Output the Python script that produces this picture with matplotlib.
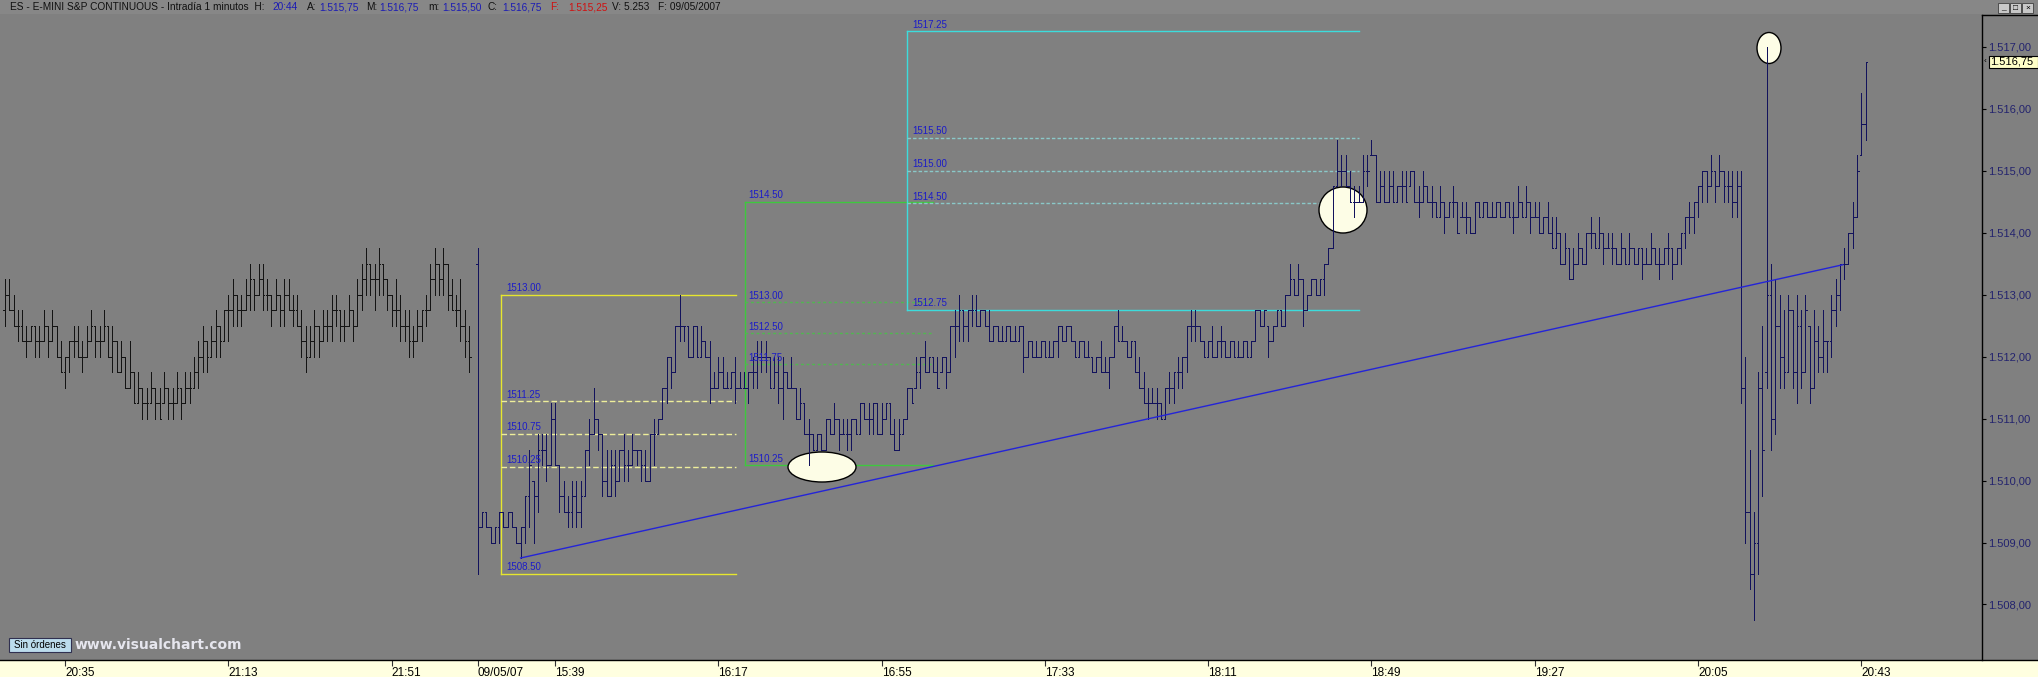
import matplotlib
matplotlib.use('Agg')
import matplotlib.pyplot as plt
from matplotlib.patches import Ellipse, Rectangle
from matplotlib.lines import Line2D
from matplotlib.collections import LineCollection

# ---------------- data ----------------
price_ticks = [1508, 1509, 1510, 1511, 1512, 1513, 1514, 1515, 1516, 1517]
time_tick_pos = [-114, -76, -38, -18, 0, 38, 76, 114, 152, 190, 228, 266, 304]
time_tick_labels = ['20:35', '21:13', '21:51', '09/05/07', '15:39', '16:17', '16:55',
                    '17:33', '18:11', '18:49', '19:27', '20:05', '20:43']

# previous session, 1-minute bars (first bar index -128)
prev_start = -128
prev_high = [
    1513.25, 1513.25, 1513.00, 1512.75, 1512.75, 1512.50, 1512.50, 1512.50, 1512.50, 1512.75,
    1512.50, 1512.75, 1512.50, 1512.25, 1512.00, 1512.25, 1512.50, 1512.50, 1512.25, 1512.50,
    1512.75, 1512.50, 1512.50, 1512.75, 1512.50, 1512.50, 1512.25, 1512.25, 1512.00, 1512.25,
    1511.75, 1511.75, 1511.50, 1511.50, 1511.75, 1511.50, 1511.50, 1511.75, 1511.50, 1511.50,
    1511.75, 1511.50, 1511.75, 1511.75, 1512.00, 1512.25, 1512.50, 1512.25, 1512.50, 1512.75,
    1512.50, 1512.75, 1513.00, 1513.25, 1513.00, 1513.00, 1513.25, 1513.50, 1513.25, 1513.50,
    1513.50, 1513.25, 1513.00, 1513.25, 1513.00, 1513.25, 1513.25, 1513.00, 1513.00, 1512.75,
    1512.50, 1512.50, 1512.75, 1512.50, 1512.75, 1512.75, 1513.00, 1513.00, 1512.75, 1512.75,
    1513.00, 1512.75, 1513.25, 1513.50, 1513.75, 1513.50, 1513.50, 1513.75, 1513.50, 1513.25,
    1513.00, 1513.25, 1513.00, 1512.75, 1512.75, 1512.50, 1512.75, 1512.75, 1513.00, 1513.50,
    1513.75, 1513.50, 1513.75, 1513.50, 1513.25, 1513.00, 1513.25, 1512.75, 1512.50]
prev_low = [
    1512.50, 1512.75, 1512.50, 1512.25, 1512.25, 1512.00, 1512.25, 1512.00, 1512.00, 1512.25,
    1512.00, 1512.25, 1512.00, 1511.75, 1511.50, 1511.75, 1512.00, 1512.00, 1511.75, 1512.00,
    1512.25, 1512.00, 1512.00, 1512.25, 1512.00, 1511.75, 1511.75, 1511.75, 1511.50, 1511.50,
    1511.25, 1511.25, 1511.00, 1511.00, 1511.25, 1511.00, 1511.00, 1511.25, 1511.00, 1511.00,
    1511.25, 1511.00, 1511.25, 1511.25, 1511.50, 1511.50, 1511.75, 1511.75, 1512.00, 1512.00,
    1512.00, 1512.25, 1512.25, 1512.50, 1512.50, 1512.50, 1512.75, 1512.75, 1512.75, 1513.00,
    1512.75, 1512.75, 1512.50, 1512.75, 1512.50, 1512.50, 1512.75, 1512.50, 1512.50, 1512.00,
    1511.75, 1512.00, 1512.00, 1512.00, 1512.25, 1512.25, 1512.25, 1512.50, 1512.25, 1512.25,
    1512.50, 1512.25, 1512.50, 1512.75, 1513.00, 1513.00, 1512.75, 1513.00, 1513.00, 1512.75,
    1512.50, 1512.50, 1512.25, 1512.25, 1512.00, 1512.00, 1512.25, 1512.25, 1512.50, 1512.75,
    1513.00, 1513.00, 1513.00, 1512.75, 1512.75, 1512.50, 1512.25, 1512.00, 1511.75]
prev_open = [
    1512.75, 1513.00, 1512.75, 1512.50, 1512.50, 1512.25, 1512.25, 1512.50, 1512.25, 1512.25,
    1512.50, 1512.25, 1512.50, 1512.00, 1511.75, 1512.00, 1512.25, 1512.25, 1512.00, 1512.00,
    1512.25, 1512.50, 1512.25, 1512.25, 1512.50, 1512.00, 1512.25, 1511.75, 1512.00, 1511.50,
    1511.75, 1511.25, 1511.50, 1511.25, 1511.25, 1511.50, 1511.25, 1511.25, 1511.50, 1511.25,
    1511.25, 1511.50, 1511.25, 1511.50, 1511.50, 1511.75, 1512.00, 1512.25, 1512.00, 1512.25,
    1512.50, 1512.25, 1512.75, 1512.75, 1513.00, 1512.75, 1512.75, 1513.00, 1513.25, 1513.00,
    1513.25, 1513.00, 1513.00, 1512.75, 1513.00, 1512.75, 1513.00, 1512.75, 1512.75, 1512.50,
    1512.25, 1512.00, 1512.25, 1512.50, 1512.25, 1512.50, 1512.50, 1512.75, 1512.75, 1512.50,
    1512.50, 1512.75, 1512.50, 1513.00, 1513.25, 1513.50, 1513.25, 1513.25, 1513.50, 1513.25,
    1513.00, 1512.75, 1512.75, 1512.50, 1512.50, 1512.25, 1512.25, 1512.50, 1512.75, 1512.75,
    1513.25, 1513.50, 1513.25, 1513.50, 1513.00, 1512.75, 1512.75, 1512.50, 1512.25]
prev_close = [
    1513.00, 1512.75, 1512.50, 1512.50, 1512.25, 1512.25, 1512.50, 1512.25, 1512.25, 1512.50,
    1512.25, 1512.50, 1512.00, 1511.75, 1512.00, 1512.25, 1512.25, 1512.00, 1512.00, 1512.25,
    1512.50, 1512.25, 1512.25, 1512.50, 1512.00, 1512.25, 1511.75, 1512.00, 1511.50, 1511.75,
    1511.25, 1511.50, 1511.25, 1511.25, 1511.50, 1511.25, 1511.00, 1511.50, 1511.25, 1511.25,
    1511.50, 1511.25, 1511.50, 1511.50, 1511.75, 1512.00, 1512.25, 1512.00, 1512.25, 1512.50,
    1512.25, 1512.75, 1512.75, 1513.00, 1512.75, 1512.75, 1513.00, 1513.25, 1513.00, 1513.25,
    1513.00, 1513.00, 1512.75, 1513.00, 1512.75, 1513.00, 1512.75, 1512.75, 1512.50, 1512.25,
    1512.00, 1512.25, 1512.50, 1512.25, 1512.50, 1512.50, 1512.75, 1512.75, 1512.50, 1512.50,
    1512.75, 1512.50, 1513.00, 1513.25, 1513.50, 1513.25, 1513.25, 1513.50, 1513.25, 1513.00,
    1512.75, 1512.75, 1512.50, 1512.50, 1512.25, 1512.25, 1512.50, 1512.75, 1512.75, 1513.25,
    1513.50, 1513.25, 1513.50, 1513.00, 1512.75, 1512.75, 1512.50, 1512.25, 1512.00]

# current session, 1-minute bars (first bar index -18, bar 0 = 15:39)
day_start = -18
day_high = [
    1513.75, 1509.50, 1509.50, 1509.25, 1509.25, 1509.50, 1509.50, 1509.50, 1509.50, 1509.25,
    1509.25, 1509.75, 1510.50, 1510.00, 1510.75, 1510.75, 1510.75, 1511.25, 1511.25, 1510.25,
    1510.00, 1509.75, 1510.00, 1510.00, 1510.00, 1510.50, 1511.00, 1511.50, 1511.00, 1510.75,
    1510.50, 1510.50, 1510.50, 1510.50, 1510.75, 1510.50, 1510.75, 1510.50, 1510.50, 1510.50,
    1510.75, 1511.00, 1511.00, 1511.50, 1512.00, 1512.00, 1512.50, 1513.00, 1512.50, 1512.50,
    1512.50, 1512.50, 1512.50, 1512.25, 1512.25, 1511.75, 1512.00, 1512.00, 1511.75, 1511.75,
    1512.00, 1511.75, 1511.75, 1511.75, 1512.00, 1512.25, 1512.25, 1512.25, 1512.00, 1512.00,
    1512.00, 1512.00, 1511.75, 1512.00, 1511.50, 1511.50, 1511.25, 1511.00, 1510.75, 1510.75,
    1510.75, 1511.00, 1511.00, 1511.25, 1511.00, 1511.00, 1511.00, 1511.00, 1511.00, 1511.25,
    1511.25, 1511.25, 1511.25, 1511.25, 1511.25, 1511.25, 1511.25, 1511.00, 1511.00, 1511.00,
    1511.50, 1511.50, 1512.00, 1512.00, 1512.25, 1512.00, 1512.00, 1512.00, 1512.00, 1512.00,
    1512.50, 1512.75, 1513.00, 1512.75, 1512.75, 1513.00, 1513.00, 1512.75, 1512.75, 1512.75,
    1512.50, 1512.50, 1512.50, 1512.50, 1512.50, 1512.50, 1512.50, 1512.50, 1512.25, 1512.25,
    1512.25, 1512.25, 1512.25, 1512.25, 1512.25, 1512.50, 1512.50, 1512.50, 1512.50, 1512.25,
    1512.25, 1512.25, 1512.25, 1512.00, 1512.00, 1512.25, 1512.00, 1512.00, 1512.50, 1512.75,
    1512.50, 1512.25, 1512.25, 1512.25, 1512.00, 1511.75, 1511.50, 1511.50, 1511.50, 1511.25,
    1511.50, 1511.75, 1511.75, 1512.00, 1512.00, 1512.50, 1512.75, 1512.75, 1512.50, 1512.25,
    1512.25, 1512.50, 1512.25, 1512.50, 1512.25, 1512.25, 1512.25, 1512.25, 1512.25, 1512.25,
    1512.25, 1512.75, 1512.75, 1512.75, 1512.50, 1512.50, 1512.75, 1512.75, 1513.00, 1513.50,
    1513.25, 1513.50, 1513.25, 1513.00, 1513.25, 1513.25, 1513.25, 1513.50, 1513.75, 1514.75,
    1515.50, 1515.25, 1515.25, 1515.00, 1514.75, 1514.75, 1515.25, 1515.25, 1515.50, 1515.25,
    1515.00, 1515.00, 1515.00, 1515.00, 1514.75, 1515.00, 1515.00, 1515.00, 1515.00, 1514.75,
    1515.00, 1514.75, 1514.75, 1514.50, 1514.75, 1514.50, 1514.50, 1514.75, 1514.50, 1514.50,
    1514.50, 1514.25, 1514.50, 1514.50, 1514.50, 1514.50, 1514.50, 1514.50, 1514.50, 1514.50,
    1514.50, 1514.50, 1514.75, 1514.50, 1514.75, 1514.50, 1514.50, 1514.50, 1514.25, 1514.50,
    1514.25, 1514.25, 1514.00, 1514.00, 1513.75, 1513.75, 1514.00, 1513.75, 1514.00, 1514.25,
    1514.00, 1514.25, 1514.00, 1514.00, 1514.00, 1513.75, 1514.00, 1513.75, 1514.00, 1513.75,
    1513.75, 1513.75, 1513.75, 1514.00, 1513.75, 1513.75, 1513.75, 1514.00, 1513.75, 1513.75,
    1514.00, 1514.25, 1514.50, 1514.50, 1514.75, 1515.00, 1515.00, 1515.25, 1515.00, 1515.25,
    1515.00, 1515.00, 1515.00, 1515.00, 1515.00, 1512.00, 1510.50, 1509.50, 1511.75, 1512.50,
    1517.00, 1513.50, 1513.25, 1513.00, 1512.75, 1513.00, 1512.75, 1513.00, 1512.75, 1513.00,
    1512.50, 1512.75, 1512.50, 1512.75, 1512.25, 1513.00, 1513.25, 1513.50, 1513.75, 1514.00,
    1514.50, 1515.25, 1516.25, 1516.75]
day_low = [
    1508.50, 1509.25, 1509.25, 1509.00, 1509.00, 1509.00, 1509.25, 1509.25, 1509.25, 1509.00,
    1508.75, 1509.00, 1509.25, 1509.00, 1509.50, 1510.25, 1510.00, 1510.25, 1510.25, 1509.50,
    1509.50, 1509.25, 1509.25, 1509.25, 1509.25, 1509.75, 1510.25, 1510.75, 1510.50, 1509.75,
    1509.75, 1509.75, 1509.75, 1510.00, 1510.00, 1510.00, 1510.25, 1510.25, 1510.00, 1510.00,
    1510.00, 1510.25, 1510.75, 1511.00, 1511.25, 1511.50, 1511.75, 1512.25, 1512.25, 1512.00,
    1512.00, 1512.00, 1512.00, 1512.00, 1511.25, 1511.50, 1511.50, 1511.50, 1511.50, 1511.50,
    1511.25, 1511.50, 1511.50, 1511.25, 1511.50, 1511.50, 1511.75, 1511.75, 1511.50, 1511.50,
    1511.25, 1511.00, 1511.50, 1511.50, 1511.00, 1511.00, 1510.75, 1510.25, 1510.50, 1510.50,
    1510.50, 1510.50, 1510.75, 1510.75, 1510.50, 1510.75, 1510.50, 1510.50, 1510.75, 1510.75,
    1511.00, 1510.75, 1510.75, 1510.75, 1510.75, 1511.00, 1510.75, 1510.50, 1510.50, 1510.75,
    1511.00, 1511.25, 1511.50, 1511.50, 1511.75, 1511.75, 1511.75, 1511.50, 1511.75, 1511.50,
    1511.75, 1512.00, 1512.25, 1512.25, 1512.25, 1512.50, 1512.50, 1512.50, 1512.50, 1512.25,
    1512.25, 1512.25, 1512.25, 1512.25, 1512.25, 1512.25, 1512.25, 1511.75, 1512.00, 1512.00,
    1512.00, 1512.00, 1512.00, 1512.00, 1512.00, 1512.00, 1512.25, 1512.25, 1512.25, 1512.00,
    1512.00, 1512.00, 1512.00, 1511.75, 1511.75, 1511.75, 1511.75, 1511.50, 1512.00, 1512.25,
    1512.25, 1512.00, 1512.00, 1511.75, 1511.50, 1511.25, 1511.00, 1511.25, 1511.00, 1511.00,
    1511.00, 1511.25, 1511.25, 1511.50, 1511.50, 1511.75, 1512.25, 1512.25, 1512.25, 1512.00,
    1512.00, 1512.00, 1512.00, 1512.00, 1512.00, 1512.00, 1512.00, 1512.00, 1512.00, 1512.00,
    1512.00, 1512.25, 1512.50, 1512.50, 1512.00, 1512.25, 1512.50, 1512.50, 1512.50, 1513.00,
    1513.00, 1513.00, 1512.50, 1512.75, 1513.00, 1513.00, 1513.00, 1513.00, 1513.50, 1513.75,
    1514.75, 1514.75, 1514.75, 1514.50, 1514.25, 1514.50, 1514.50, 1514.75, 1515.25, 1514.50,
    1514.50, 1514.50, 1514.50, 1514.50, 1514.50, 1514.50, 1514.50, 1514.75, 1514.50, 1514.25,
    1514.50, 1514.50, 1514.25, 1514.25, 1514.25, 1514.00, 1514.25, 1514.25, 1514.00, 1514.25,
    1514.00, 1514.00, 1514.00, 1514.25, 1514.25, 1514.25, 1514.25, 1514.25, 1514.25, 1514.25,
    1514.25, 1514.00, 1514.25, 1514.25, 1514.25, 1514.00, 1514.25, 1514.00, 1514.00, 1514.00,
    1513.75, 1513.75, 1513.50, 1513.50, 1513.25, 1513.25, 1513.50, 1513.50, 1513.50, 1513.75,
    1513.75, 1513.75, 1513.50, 1513.75, 1513.50, 1513.50, 1513.50, 1513.50, 1513.50, 1513.50,
    1513.50, 1513.25, 1513.50, 1513.50, 1513.50, 1513.25, 1513.50, 1513.50, 1513.25, 1513.50,
    1513.50, 1513.75, 1514.00, 1514.00, 1514.25, 1514.50, 1514.50, 1514.75, 1514.50, 1514.75,
    1514.50, 1514.50, 1514.25, 1514.25, 1511.25, 1509.00, 1508.25, 1507.75, 1508.50, 1509.75,
    1511.50, 1510.50, 1510.75, 1511.50, 1511.50, 1511.75, 1511.50, 1511.25, 1511.50, 1511.75,
    1511.25, 1511.50, 1511.75, 1511.75, 1511.75, 1512.00, 1512.50, 1512.75, 1513.25, 1513.50,
    1513.75, 1514.25, 1515.25, 1515.50]
day_open = [
    1513.50, 1509.25, 1509.50, 1509.25, 1509.00, 1509.25, 1509.50, 1509.25, 1509.50, 1509.25,
    1509.00, 1509.25, 1509.75, 1510.00, 1509.75, 1510.50, 1510.50, 1510.25, 1511.00, 1510.25,
    1509.75, 1509.50, 1509.50, 1509.75, 1509.50, 1509.75, 1510.50, 1510.75, 1511.00, 1510.75,
    1510.00, 1509.75, 1510.25, 1510.00, 1510.50, 1510.25, 1510.25, 1510.50, 1510.50, 1510.25,
    1510.00, 1510.75, 1510.75, 1511.00, 1511.50, 1512.00, 1511.75, 1512.50, 1512.50, 1512.50,
    1512.00, 1512.50, 1512.00, 1512.25, 1512.00, 1511.50, 1511.50, 1511.75, 1511.50, 1511.50,
    1511.75, 1511.50, 1511.50, 1511.50, 1511.75, 1511.75, 1512.00, 1512.00, 1512.00, 1511.50,
    1511.75, 1511.50, 1511.75, 1511.50, 1511.50, 1511.00, 1511.25, 1510.75, 1510.75, 1510.50,
    1510.75, 1510.50, 1511.00, 1510.75, 1511.00, 1510.75, 1510.75, 1510.75, 1511.00, 1510.75,
    1511.25, 1511.00, 1511.00, 1511.25, 1510.75, 1511.00, 1511.25, 1510.75, 1510.50, 1510.75,
    1511.00, 1511.50, 1511.50, 1511.75, 1512.00, 1511.75, 1512.00, 1511.75, 1511.75, 1512.00,
    1511.75, 1512.50, 1512.50, 1512.75, 1512.50, 1512.75, 1512.75, 1512.50, 1512.75, 1512.50,
    1512.25, 1512.50, 1512.25, 1512.25, 1512.50, 1512.25, 1512.25, 1512.50, 1512.00, 1512.25,
    1512.00, 1512.00, 1512.25, 1512.00, 1512.00, 1512.25, 1512.50, 1512.25, 1512.50, 1512.25,
    1512.00, 1512.25, 1512.00, 1512.00, 1511.75, 1512.00, 1511.75, 1511.75, 1512.00, 1512.50,
    1512.25, 1512.25, 1512.00, 1512.25, 1511.75, 1511.50, 1511.25, 1511.25, 1511.25, 1511.25,
    1511.00, 1511.50, 1511.50, 1511.75, 1511.75, 1512.00, 1512.50, 1512.50, 1512.50, 1512.25,
    1512.00, 1512.25, 1512.00, 1512.25, 1512.25, 1512.00, 1512.25, 1512.00, 1512.00, 1512.25,
    1512.00, 1512.25, 1512.75, 1512.50, 1512.50, 1512.25, 1512.50, 1512.75, 1512.50, 1513.00,
    1513.25, 1513.00, 1513.25, 1512.75, 1513.00, 1513.25, 1513.00, 1513.25, 1513.50, 1513.75,
    1514.75, 1515.00, 1515.00, 1514.75, 1514.50, 1514.50, 1514.50, 1515.00, 1515.25, 1515.25,
    1514.50, 1514.75, 1514.50, 1514.75, 1514.50, 1514.75, 1514.75, 1514.75, 1515.00, 1514.50,
    1514.50, 1514.75, 1514.50, 1514.50, 1514.25, 1514.50, 1514.25, 1514.50, 1514.50, 1514.25,
    1514.25, 1514.25, 1514.00, 1514.50, 1514.25, 1514.50, 1514.25, 1514.25, 1514.50, 1514.25,
    1514.50, 1514.25, 1514.25, 1514.50, 1514.25, 1514.50, 1514.25, 1514.25, 1514.00, 1514.25,
    1514.00, 1513.75, 1514.00, 1513.50, 1513.75, 1513.25, 1513.50, 1513.75, 1513.50, 1514.00,
    1514.00, 1513.75, 1514.00, 1513.75, 1513.75, 1513.75, 1513.50, 1513.75, 1513.50, 1513.75,
    1513.50, 1513.75, 1513.50, 1513.50, 1513.75, 1513.50, 1513.50, 1513.75, 1513.75, 1513.50,
    1513.75, 1514.00, 1514.25, 1514.25, 1514.50, 1514.75, 1515.00, 1514.75, 1515.00, 1514.75,
    1515.00, 1514.75, 1514.75, 1514.50, 1514.75, 1511.50, 1509.50, 1508.50, 1509.00, 1511.50,
    1511.75, 1513.00, 1511.00, 1512.50, 1512.00, 1511.75, 1512.75, 1511.75, 1512.50, 1511.75,
    1512.50, 1511.50, 1512.25, 1512.00, 1512.25, 1512.25, 1512.75, 1513.00, 1513.50, 1513.50,
    1514.00, 1514.25, 1515.25, 1515.75]
day_close = [
    1509.25, 1509.50, 1509.25, 1509.00, 1509.25, 1509.50, 1509.25, 1509.50, 1509.25, 1509.00,
    1509.25, 1509.75, 1510.25, 1509.75, 1510.50, 1510.50, 1510.25, 1511.00, 1510.25, 1509.75,
    1509.50, 1509.50, 1509.75, 1509.50, 1509.75, 1510.50, 1510.75, 1511.00, 1510.75, 1510.00,
    1509.75, 1510.25, 1510.00, 1510.50, 1510.25, 1510.25, 1510.50, 1510.50, 1510.25, 1510.00,
    1510.75, 1510.75, 1511.00, 1511.50, 1512.00, 1511.75, 1512.50, 1512.50, 1512.50, 1512.00,
    1512.50, 1512.00, 1512.25, 1512.00, 1511.50, 1511.50, 1511.75, 1511.50, 1511.50, 1511.75,
    1511.50, 1511.50, 1511.50, 1511.75, 1511.75, 1512.00, 1512.00, 1512.00, 1511.50, 1511.75,
    1511.50, 1511.75, 1511.50, 1511.50, 1511.00, 1511.25, 1510.75, 1510.75, 1510.50, 1510.75,
    1510.50, 1511.00, 1510.75, 1511.00, 1510.75, 1510.75, 1510.75, 1511.00, 1510.75, 1511.25,
    1511.00, 1511.00, 1511.25, 1510.75, 1511.00, 1511.25, 1510.75, 1510.50, 1510.75, 1511.00,
    1511.50, 1511.25, 1511.75, 1512.00, 1511.75, 1512.00, 1511.75, 1511.50, 1512.00, 1511.75,
    1512.50, 1512.50, 1512.75, 1512.50, 1512.75, 1512.75, 1512.50, 1512.75, 1512.50, 1512.25,
    1512.50, 1512.25, 1512.25, 1512.50, 1512.25, 1512.25, 1512.50, 1512.00, 1512.25, 1512.00,
    1512.00, 1512.25, 1512.00, 1512.00, 1512.25, 1512.50, 1512.25, 1512.50, 1512.25, 1512.00,
    1512.25, 1512.00, 1512.00, 1511.75, 1512.00, 1511.75, 1511.75, 1512.00, 1512.50, 1512.25,
    1512.25, 1512.00, 1512.25, 1511.75, 1511.50, 1511.25, 1511.25, 1511.25, 1511.25, 1511.00,
    1511.50, 1511.50, 1511.75, 1511.75, 1512.00, 1512.50, 1512.50, 1512.50, 1512.25, 1512.00,
    1512.25, 1512.00, 1512.25, 1512.25, 1512.00, 1512.25, 1512.00, 1512.00, 1512.25, 1512.00,
    1512.25, 1512.75, 1512.50, 1512.75, 1512.25, 1512.50, 1512.75, 1512.50, 1513.00, 1513.25,
    1513.00, 1513.25, 1512.75, 1513.00, 1513.25, 1513.00, 1513.25, 1513.50, 1513.75, 1514.75,
    1515.00, 1515.00, 1514.75, 1514.50, 1514.50, 1514.50, 1515.00, 1515.00, 1515.25, 1514.50,
    1514.75, 1514.50, 1514.75, 1514.50, 1514.75, 1514.75, 1514.50, 1515.00, 1514.50, 1514.50,
    1514.75, 1514.50, 1514.50, 1514.25, 1514.50, 1514.25, 1514.50, 1514.50, 1514.00, 1514.25,
    1514.25, 1514.00, 1514.50, 1514.25, 1514.50, 1514.25, 1514.25, 1514.50, 1514.25, 1514.50,
    1514.25, 1514.25, 1514.50, 1514.25, 1514.50, 1514.25, 1514.25, 1514.00, 1514.25, 1514.00,
    1513.75, 1514.00, 1513.50, 1513.75, 1513.25, 1513.50, 1513.75, 1513.50, 1514.00, 1514.00,
    1513.75, 1514.00, 1513.75, 1513.75, 1513.75, 1513.50, 1513.75, 1513.50, 1513.75, 1513.50,
    1513.75, 1513.50, 1513.50, 1513.75, 1513.50, 1513.50, 1513.75, 1513.75, 1513.50, 1513.75,
    1514.00, 1514.25, 1514.25, 1514.50, 1514.75, 1515.00, 1514.75, 1515.00, 1514.75, 1515.00,
    1514.75, 1514.75, 1514.50, 1514.75, 1511.50, 1509.50, 1508.50, 1509.00, 1511.50, 1510.50,
    1513.00, 1511.00, 1512.50, 1512.00, 1511.75, 1512.75, 1511.75, 1512.50, 1511.75, 1512.75,
    1511.50, 1512.25, 1512.00, 1512.25, 1512.25, 1512.75, 1513.00, 1513.50, 1513.50, 1514.00,
    1514.25, 1515.00, 1515.75, 1516.75]

fib_ratios = [1.0, 0.618, 0.5, 0.382, 0.0]
yellow_range = (1508.50, 1513.00)
yellow_labels = ['1513.00', '1511.25', '1510.75', '1510.25', '1508.50']
green_range = (1510.25, 1514.50)
green_labels = ['1514.50', '1513.00', '1512.50', '1511.75', '1510.25']
cyan_range = (1512.75, 1517.25)
cyan_labels = ['1517.25', '1515.50', '1515.00', '1514.50', '1512.75']
trend_bars = (-8, 299.7)
trend_prices = (1508.75, 1513.48)
last_price = 1516.75

header_parts = [("ES - E-MINI S&P CONTINUOUS - Intradía 1 minutos  H:", 'k'), ("20:44", 'b'),
                ("A:", 'k'), ("1.515,75", 'b'), ("M:", 'k'), ("1.516,75", 'b'),
                ("m:", 'k'), ("1.515,50", 'b'), ("C:", 'k'), ("1.516,75", 'b'),
                ("F:", 'r'), ("1.515,25", 'r'), ("V: 5.253", 'k'), ("F: 09/05/2007", 'k')]

# ---------------- layout ----------------
W, H = 2038, 677
PX0, PXS = 555.0, 4.297          # pixel of bar 0 and pixels per bar
Y1517, YPP = 46.5, 62.0          # pixel of 1517 and pixels per point
BG = '#808080'
TICK = 0.36                      # open/close tick length in bars
plt.rcParams['font.family'] = ['Liberation Sans', 'DejaVu Sans']


def bx(px):
    return (px - PX0) / PXS


def pr(py):
    return 1517 - (py - Y1517) / YPP


fig = plt.figure(figsize=(W / 100, H / 100), dpi=100)
fig.patch.set_facecolor(BG)

ax = fig.add_axes([0, 1 - 660 / H, 1982 / W, (660 - 15) / H])
ax.set_facecolor(BG)
ax.set_xlim(bx(0), bx(1982))
ax.set_ylim(pr(660), pr(15))
for s in ['top', 'left', 'bottom']:
    ax.spines[s].set_visible(False)
ax.spines['right'].set_color('black')
ax.spines['right'].set_linewidth(1.0)

ax.yaxis.tick_right()
ax.set_yticks(price_ticks)
ax.set_yticklabels(['%d.%03d,00' % (v // 1000, v % 1000) for v in price_ticks])
ax.tick_params(axis='y', length=3, width=0.8, direction='out', pad=1.5,
               labelsize=8, labelcolor='#23236e', color='black')
ax.set_xticks(time_tick_pos)
ax.set_xticklabels(time_tick_labels)
for t in ax.get_xticklabels():
    t.set_horizontalalignment('left')
ax.tick_params(axis='x', length=4, width=0.8, direction='out', pad=1.0,
               labelsize=8.5, labelcolor='black', color='#303030')

problems = []


# ---- bars ----
def draw_bars(name, start, hi, lo, op, cl, color):
    n = len(hi)
    if not (len(lo) == len(op) == len(cl) == n):
        problems.append('%s len %d %d %d %d' % (name, n, len(lo), len(op), len(cl)))
    segs = []
    for i in range(min(n, len(lo), len(op), len(cl))):
        x = start + i
        if not (lo[i] <= op[i] <= hi[i] and lo[i] <= cl[i] <= hi[i]):
            problems.append('%s p=%d' % (name, x))
        segs.append([(x, lo[i]), (x, hi[i])])
        segs.append([(x - TICK, op[i]), (x, op[i])])
        segs.append([(x, cl[i]), (x + TICK, cl[i])])
    lc = LineCollection(segs, colors=color, linewidths=0.72, antialiased=False, zorder=5)
    ax.add_collection(lc)


draw_bars('prev', prev_start, prev_high, prev_low, prev_open, prev_close, '#141414')
draw_bars('day', day_start, day_high, day_low, day_open, day_close, '#12125c')
if problems:
    fig.text(0.3, 0.1, ' '.join(problems[:40]), fontsize=7, color='red', wrap=True)


# ---- fib boxes ----
def fib_box(rng, labels, x0px, x1px, color, dash_color, dashes, label_dx):
    lo, hi = rng
    xa, xb = bx(x0px), bx(x1px)
    ax.plot([xa, xa], [lo, hi], color=color, lw=1.0, zorder=3)
    for r, lab in zip(fib_ratios, labels):
        lev = lo + r * (hi - lo)
        if r in (0.0, 1.0):
            ax.plot([xa, xb], [lev, lev], color=color, lw=1.0, zorder=3)
        else:
            ax.plot([xa, xb], [lev, lev], color=dash_color, lw=1.0, dashes=dashes, zorder=3)
        ax.annotate(lab, (xa, lev), xytext=(label_dx, 1.5), textcoords='offset pixels',
                    fontsize=7, color='#1c1cc8', va='bottom', ha='left', zorder=6)


fib_box(yellow_range, yellow_labels, 501, 736, '#e6e62e', '#eeee9a', (4, 2), 5)
fib_box(green_range, green_labels, 745, 933, '#3ec83e', '#50b850', (2, 2), 3)
fib_box(cyan_range, cyan_labels, 907, 1359, '#3cdcdc', '#8ac8c8', (2.5, 1.5), 5)

# ---- trend line ----
ax.plot(list(trend_bars), list(trend_prices), color='#2424d8', lw=1.0, zorder=7)

# ---- ellipses ----
for cx, cy, w, h in [(822, 467, 68, 30), (1343, 210, 48, 46), (1769, 48, 24, 31)]:
    e = Ellipse((bx(cx), pr(cy)), w / PXS, h / YPP, facecolor='#fdfde6',
                edgecolor='black', lw=1.0, zorder=4)
    ax.add_patch(e)

# ---- last price box ----
ylp = Y1517 + (1517 - last_price) * YPP
fig.add_artist(Rectangle((1989 / W, 1 - (ylp + 5.5) / H), 49 / W, 11 / H, transform=fig.transFigure,
                         facecolor='#ffffc8', edgecolor='black', lw=0.8, zorder=10))
fig.text(1990 / W, 1 - ylp / H, '%d.%03d,%02d' % (int(last_price) // 1000, int(last_price) % 1000,
                                                   round((last_price % 1) * 100)),
         fontsize=8, color='black', va='center', ha='left', zorder=11)
fig.text(1984 / W, 1 - ylp / H, '‹', fontsize=6, color='black', va='center', ha='left')

# ---- frame lines ----
fig.add_artist(Line2D([0, 1], [1 - 660 / H] * 2, transform=fig.transFigure, color='black', lw=1.0))
fig.add_artist(Line2D([1982 / W, 1], [1 - 15 / H] * 2, transform=fig.transFigure, color='black', lw=1.0))
fig.add_artist(Rectangle((0, 0), 1, 17 / H, transform=fig.transFigure,
                         facecolor='#ffffe0', edgecolor='none', zorder=-5))

# ---- header ----
fig.add_artist(Rectangle((0, 1 - 14 / H), 1, 14 / H, transform=fig.transFigure,
                         facecolor='#878787', edgecolor='none', zorder=-5))
hx = [10, 272, 307, 319, 366, 379, 428, 442, 488, 502, 550, 568, 612, 658]
cmap = {'k': '#101010', 'b': '#1c1cb4', 'r': '#d01010'}
for (txt, c), x in zip(header_parts, hx):
    fig.text(x / W, 1 - 7.5 / H, txt, fontsize=7.3, color=cmap[c], va='center', ha='left')

# window buttons
for x0, sym in [(1998, '_'), (2010, '□'), (2022, '×')]:
    fig.add_artist(Rectangle((x0 / W, 1 - 13 / H), 11 / W, 10 / H, transform=fig.transFigure,
                             facecolor='#c8c8c8', edgecolor='#404040', lw=0.6))
    fig.text((x0 + 5.5) / W, 1 - 8 / H, sym, fontsize=6, ha='center', va='center', color='black')

# ---- bottom-left badges ----
fig.add_artist(Rectangle((9 / W, 1 - 652 / H), 62 / W, 14 / H, transform=fig.transFigure,
                         facecolor='#bcdcec', edgecolor='#303050', lw=0.8))
fig.text(40 / W, 1 - 645 / H, 'Sin órdenes', fontsize=7, ha='center', va='center', color='black')
fig.text(75 / W, 1 - 645 / H, 'www.visualchart.com', fontsize=10, fontweight='bold',
         ha='left', va='center', color='#e6e6ee', family=['DejaVu Sans'])

fig.savefig('out.png', dpi=100, facecolor=BG)
